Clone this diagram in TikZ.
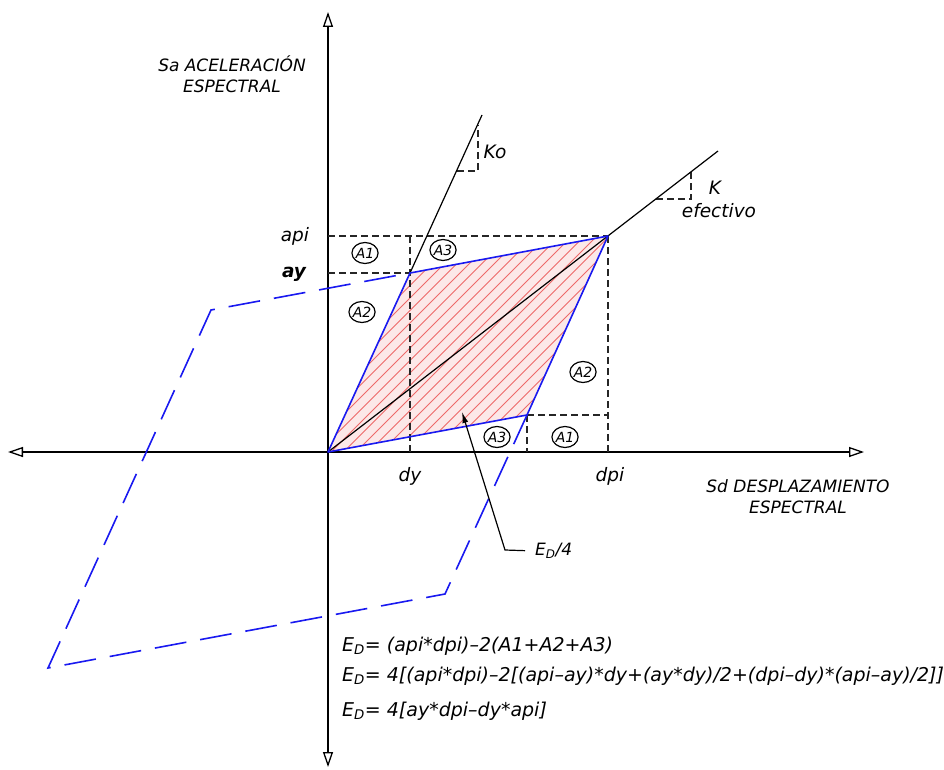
\documentclass[tikz,border=0pt]{standalone}
\usepackage{fontspec}
\setmainfont{DejaVu Sans}
\usetikzlibrary{arrows.meta,shapes.geometric}
\definecolor{loopblue}{RGB}{25,25,240}
\definecolor{hatchred}{RGB}{238,105,105}
\definecolor{hatchfill}{RGB}{252,232,232}
\begin{document}
\begin{tikzpicture}[x=1pt,y=-1pt,
  txt/.style={font=\fontsize{17}{21}\selectfont\itshape, inner sep=0pt, align=center},
  lbl/.style={font=\fontsize{18.5}{21}\selectfont\itshape, inner sep=0pt},
  formula/.style={font=\fontsize{19}{22}\selectfont\itshape, inner sep=0pt, anchor=base west},
  axisline/.style={line width=1.4pt, {Triangle[open,length=15pt,width=10pt,line width=1.3pt]}-{Triangle[open,length=15pt,width=10pt,line width=1.3pt]}},
  guide/.style={dash pattern=on 7pt off 4pt, line width=1.2pt, black!85},
  bluesolid/.style={loopblue, line width=1.6pt, line join=round},
  bluedash/.style={loopblue, line width=1.6pt, dash pattern=on 32pt off 14pt},
  hatchline/.style={hatchred, line width=0.75pt},
  blackline/.style={black, line width=1.2pt},
  areatag/.style={ellipse, draw, line width=1.2pt, minimum width=24pt, minimum height=21pt, inner sep=0pt, font=\fontsize{14}{14}\selectfont\itshape}
]
\useasboundingbox (0,0) rectangle (944,770);
% key points
\coordinate (O) at (328,452);
\coordinate (Y) at (410,273);
\coordinate (P) at (608,236);
\coordinate (B) at (527,415);
\coordinate (C1) at (211,310);
\coordinate (C2) at (445,594);
\coordinate (N) at (48,668);
\coordinate (Kt) at (718,151);
\coordinate (Kot) at (482,115);
% axes
\coordinate (axL) at (8,452);
\coordinate (axR) at (864,452);
\coordinate (axT) at (328,12);
\coordinate (axB) at (328,767);
% guide ends
\coordinate (api0) at (328,236);
\coordinate (ay0) at (328,273);
\coordinate (dy0) at (410,452);
\coordinate (dyT) at (410,236);
\coordinate (dpi0) at (608,452);
\coordinate (Bx) at (608,415);
\coordinate (Bd) at (527,452);
% slope triangles
\coordinate (ko1) at (457,171);
\coordinate (ko2) at (478,171);
\coordinate (ko3) at (478,125);
\coordinate (ke1) at (656,199);
\coordinate (ke2) at (691,199);
\coordinate (ke3) at (691,172);

% hatched area
\fill[hatchfill] (O)--(Y)--(P)--(B)--cycle;
\begin{scope}
  \clip (O)--(Y)--(P)--(B)--cycle;
  \foreach \k in {0,...,22}{
    \pgfmathsetmacro\cc{683+12.5*\k}
    \draw[hatchline] (\cc-470,470) -- (\cc-210,210);
  }
\end{scope}

% axes
\draw[axisline] (axL) -- (axR);
\draw[axisline] (axB) -- (axT);

% guides
\draw[guide] (api0) -- (P);
\draw[guide] (ay0) -- (Y);
\draw[guide] (dyT) -- (dy0);
\draw[guide] (P) -- (dpi0);
\draw[guide] (B) -- (Bx);
\draw[guide] (B) -- (Bd);
\draw[guide] (ko1) -- (ko2) -- (ko3);
\draw[guide] (ke1) -- (ke2) -- (ke3);

% stiffness lines
\draw[blackline] (O) -- (Kt);
\draw[blackline] (Y) -- (Kot);

% hysteresis loop
\draw[bluedash] (B) -- (C2) -- (N) -- (C1) -- (Y);
\draw[bluesolid] (O) -- (Y) -- (P) -- (B) -- cycle;

% labels
\node[txt] (sa) at (232,74) {Sa ACELERACIÓN\\ESPECTRAL};
\node[txt] (sd) at (798,497) {Sd DESPLAZAMIENTO\\ESPECTRAL};
\node[lbl] (api) at (295,236) {api};
\node[lbl, font=\fontsize{18.5}{21}\selectfont\bfseries\itshape] (ay) at (294,274) {ay};
\node[lbl] (dy) at (410,476) {dy};
\node[lbl] (dpi) at (610,476) {dpi};
\node[lbl] (ko) at (495,152) {Ko};
\node[lbl] (k) at (715,188) {K};
\node[lbl] (kef) at (719,211) {efectivo};

% area tags
\node[areatag] (a1u) at (365,253) {A1};
\node[areatag] (a3u) at (443,250) {A3};
\node[areatag] (a2u) at (362,312) {A2};
\node[areatag] (a2l) at (583,372) {A2};
\node[areatag] (a3l) at (497,437) {A3};
\node[areatag] (a1l) at (565,437) {A1};

% E_D/4 pointer
\node[txt, anchor=west] (ed4) at (535,551) {E\textsubscript{D}/4};
\coordinate (edk) at (505,550);
\coordinate (edt) at (462,412);
\draw[blackline, shorten <=10pt, -{Latex[length=11pt,width=6pt]}] (ed4.west) -- (edk) -- (edt);

% formulas
\node[formula] (f1) at (342,651) {E\textsubscript{D}= (api*dpi)–2(A1+A2+A3)};
\node[formula] (f2) at (342,681) {E\textsubscript{D}= 4[(api*dpi)–2[(api–ay)*dy+(ay*dy)/2+(dpi–dy)*(api–ay)/2]]};
\node[formula] (f3) at (342,716) {E\textsubscript{D}= 4[ay*dpi–dy*api]};
\end{tikzpicture}
\end{document}
